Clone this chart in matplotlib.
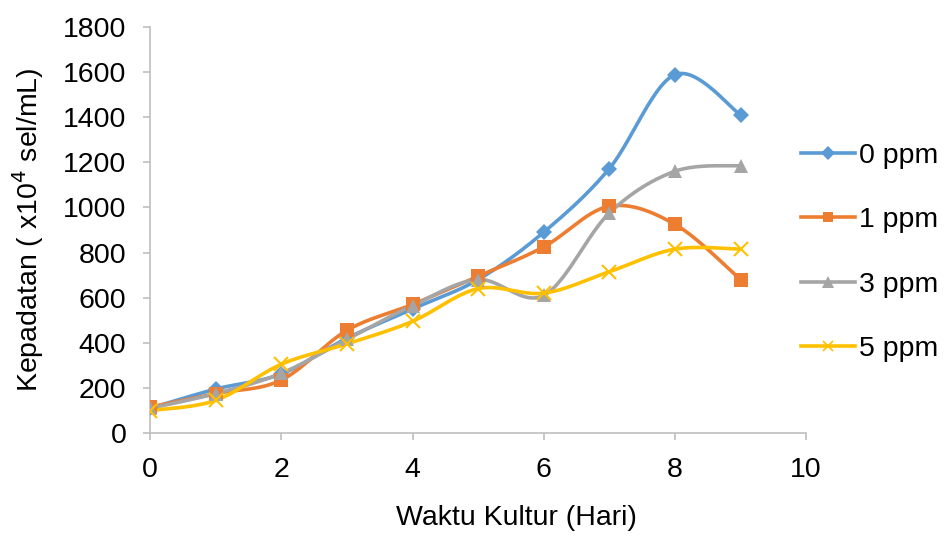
import numpy as np
import matplotlib.pyplot as plt

plt.rcParams['font.family'] = ['Liberation Sans', 'DejaVu Sans']

hari = [0, 1, 2, 3, 4, 5, 6, 7, 8, 9]
ppm0 = [110, 195, 262, 420, 550, 680, 890, 1172, 1588, 1410]
ppm1 = [115, 175, 235, 455, 570, 695, 825, 1005, 925, 680]
ppm3 = [110, 175, 265, 415, 565, 680, 610, 975, 1160, 1185]
ppm5 = [100, 145, 305, 395, 495, 640, 620, 715, 815, 815]

labels = ['0 ppm', '1 ppm', '3 ppm', '5 ppm']
colors = ['#5B9BD5', '#ED7D31', '#A5A5A5', '#FFC000']
markers = ['D', 's', '^', 'x']
msizes = [8.5, 9.5, 10.5, 9.5]


def smooth(x, y, n=30):
    """
    Excel-like smoothed line (bezier through the points)
    """
    x = np.asarray(x, float)
    y = np.asarray(y, float)
    px = np.concatenate([[x[0]], x, [x[-1]]])
    py = np.concatenate([[y[0]], y, [y[-1]]])
    xs, ys = [], []
    t = np.linspace(0, 1, n)
    for i in range(1, len(px) - 2):
        p0 = np.array([px[i], py[i]])
        p3 = np.array([px[i + 1], py[i + 1]])
        c1 = p0 + (np.array([px[i + 1], py[i + 1]]) - np.array([px[i - 1], py[i - 1]])) / 6
        c2 = p3 - (np.array([px[i + 2], py[i + 2]]) - np.array([px[i], py[i]])) / 6
        b = ((1 - t) ** 3)[:, None] * p0 + (3 * (1 - t) ** 2 * t)[:, None] * c1 \
            + (3 * (1 - t) * t ** 2)[:, None] * c2 + (t ** 3)[:, None] * p3
        xs.extend(b[:, 0])
        ys.extend(b[:, 1])
    return xs, ys


fig = plt.figure(figsize=(9.44, 5.36), dpi=100)
ax = fig.add_axes([0.159, 0.192, 0.695, 0.758])

for vals, lab, c, m, ms in zip([ppm0, ppm1, ppm3, ppm5], labels, colors, markers, msizes):
    sx, sy = smooth(hari, vals)
    ax.plot(sx, sy, color=c, lw=2.6, zorder=2)
    ax.plot(hari, vals, linestyle='none', marker=m, color=c, ms=ms,
            mew=1.5 if m == 'x' else 0, zorder=3)
    ax.plot([], [], color=c, lw=2.6, marker=m, ms=ms * 0.8,
            mew=1.2 if m == 'x' else 0, label=lab)

ax.set_xlim(0, 10)
ax.set_ylim(0, 1800)
ax.set_xticks(range(0, 11, 2))
ax.set_yticks(range(0, 1801, 200))

for s in ['top', 'right']:
    ax.spines[s].set_visible(False)
for s in ['left', 'bottom']:
    ax.spines[s].set_color('#BFBFBF')
    ax.spines[s].set_linewidth(1.2)
ax.tick_params(colors='#BFBFBF', labelcolor='black', labelsize=20.5,
               length=5, width=1.2, pad=12)

ax.set_xlabel('Waktu Kultur (Hari)', fontsize=20.5)
ax.xaxis.set_label_coords(0.558, -0.177)
ax.set_ylabel('Kepadatan ( x10$^4$ sel/mL)', fontsize=20.5, labelpad=12)

ax.legend(loc='center left', bbox_to_anchor=(0.992, 0.445), frameon=False,
          fontsize=20.5, handlelength=1.9, handletextpad=0.15,
          labelspacing=1.35, borderpad=0, borderaxespad=0)

fig.savefig('out.png', dpi=100)
